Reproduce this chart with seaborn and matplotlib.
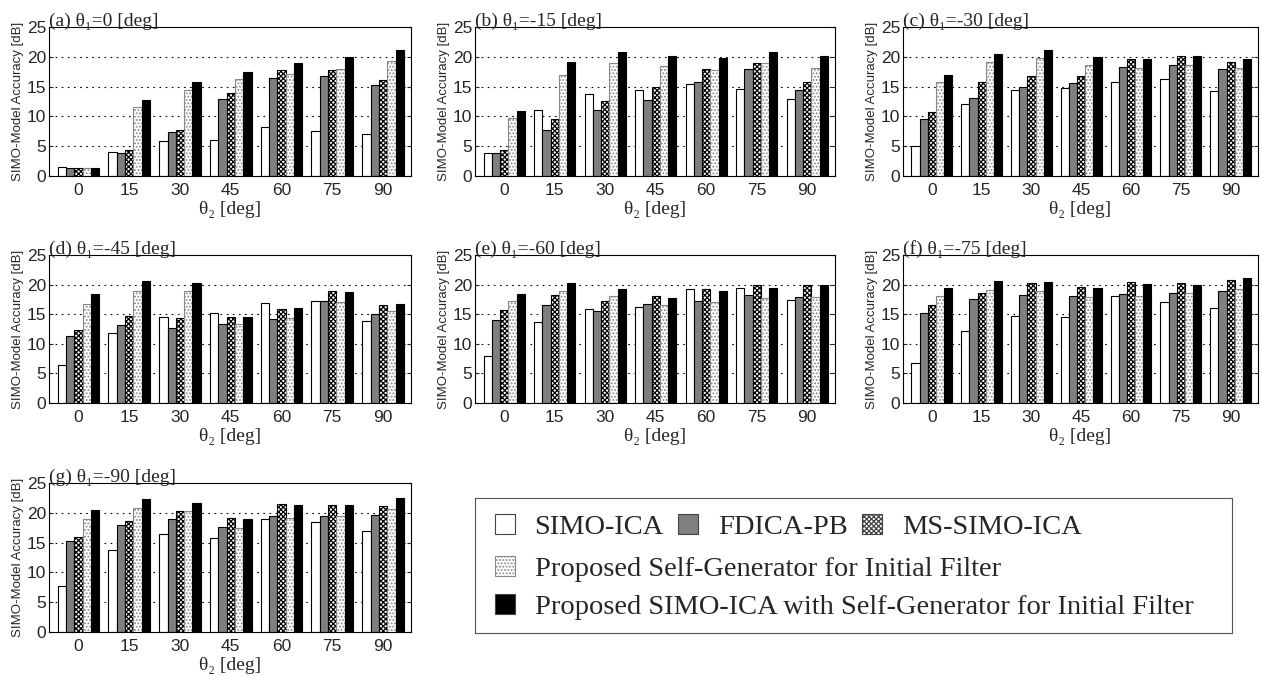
import numpy as np
import pandas as pd
import matplotlib
matplotlib.use('Agg')
import matplotlib.pyplot as plt
from matplotlib.patches import Patch
import seaborn as sns

# theta2 positions and methods
angles = ['0', '15', '30', '45', '60', '75', '90']
methods = ['SIMO-ICA', 'FDICA-PB', 'MS-SIMO-ICA',
           'Proposed Self-Generator for Initial Filter',
           'Proposed SIMO-ICA with Self-Generator for Initial Filter']

# rows: one per method (same order as methods), columns: theta2
panel_a = [[1.5, 4.0, 5.9, 6.1, 8.2, 7.6, 7.1],
           [1.4, 3.8, 7.4, 13.0, 16.5, 16.7, 15.3],
           [1.4, 4.3, 7.8, 13.9, 17.8, 17.8, 16.1],
           [1.4, 11.6, 14.5, 16.2, 17.1, 18.0, 19.3],
           [1.4, 12.8, 15.7, 17.4, 18.9, 20.0, 21.2]]
panel_b = [[3.8, 11.0, 13.7, 14.4, 15.5, 14.6, 13.0],
           [3.9, 7.8, 11.0, 12.8, 15.8, 17.9, 14.5],
           [4.4, 9.6, 12.6, 15.0, 17.9, 19.0, 15.7],
           [9.8, 16.9, 18.9, 18.5, 17.8, 18.9, 18.1],
           [10.9, 19.1, 20.8, 20.2, 19.8, 20.8, 20.1]]
panel_c = [[5.0, 12.1, 14.4, 14.7, 15.7, 16.3, 14.2],
           [9.5, 13.1, 15.0, 15.6, 18.3, 18.6, 18.0],
           [10.7, 15.7, 16.7, 16.7, 19.7, 20.2, 19.1],
           [15.7, 19.2, 19.8, 18.6, 18.1, 18.6, 18.1],
           [16.9, 20.5, 21.2, 20.0, 19.6, 20.2, 19.6]]
panel_d = [[6.5, 11.8, 14.5, 15.2, 16.9, 17.2, 13.8],
           [11.4, 13.1, 12.7, 13.4, 14.2, 17.2, 15.1],
           [12.3, 14.7, 14.4, 14.6, 15.8, 19.0, 16.6],
           [16.8, 19.0, 19.0, 13.4, 14.4, 17.0, 15.6],
           [18.4, 20.6, 20.3, 14.6, 16.1, 18.7, 16.8]]
panel_e = [[8.0, 13.7, 15.9, 16.3, 19.2, 19.4, 17.4],
           [14.1, 16.6, 15.6, 16.8, 17.2, 18.3, 17.9],
           [15.7, 18.3, 17.3, 18.1, 19.2, 19.9, 20.0],
           [17.3, 18.9, 18.1, 16.5, 17.0, 17.8, 17.9],
           [18.4, 20.3, 19.2, 17.7, 18.9, 19.4, 19.9]]
panel_f = [[6.7, 12.1, 14.7, 14.6, 18.0, 17.1, 16.1],
           [15.2, 17.5, 18.3, 18.0, 18.4, 18.5, 18.9],
           [16.5, 18.6, 20.2, 19.6, 20.5, 20.3, 20.7],
           [18.1, 19.1, 19.0, 17.9, 18.0, 18.5, 19.2],
           [19.4, 20.6, 20.5, 19.5, 20.1, 20.0, 21.1]]
panel_g = [[7.8, 13.8, 16.4, 15.8, 18.9, 18.4, 16.9],
           [15.3, 17.9, 18.9, 17.7, 19.4, 19.5, 19.7],
           [16.0, 18.6, 20.3, 19.1, 21.4, 21.3, 21.2],
           [18.9, 20.8, 20.3, 17.4, 19.1, 19.5, 20.6],
           [20.4, 22.3, 21.6, 19.0, 21.3, 21.3, 22.4]]

titles = ['(a) θ₁=0 [deg]', '(b) θ₁=-15 [deg]', '(c) θ₁=-30 [deg]',
          '(d) θ₁=-45 [deg]', '(e) θ₁=-60 [deg]', '(f) θ₁=-75 [deg]',
          '(g) θ₁=-90 [deg]']
panels = [panel_a, panel_b, panel_c, panel_d, panel_e, panel_f, panel_g]

# bar styles: facecolor, hatch, edgecolor
styles = [('white', '', 'black'),
          ('#7f7f7f', '', 'black'),
          ('white', 'xxxxxxx', 'black'),
          ('white', '.....', '#888888'),
          ('black', '', 'black')]

sns.set_style('white')
serif = ['Liberation Serif', 'DejaVu Serif']
sans = ['Liberation Sans', 'DejaVu Sans']
plt.rcParams['font.family'] = sans
plt.rcParams['hatch.linewidth'] = 0.9

W, H = 1262, 677
fig = plt.figure(figsize=(W / 100, H / 100), dpi=100)

cols = [(49, 411), (475, 835), (903, 1258)]
rows = [(27, 176), (255, 403), (483, 632)]


def style_bars(ax):
    for cont, (fc, hatch, ec) in zip(ax.containers, styles):
        for p in cont:
            p.set_facecolor(fc)
            p.set_hatch(hatch)
            p.set_edgecolor(ec)
            p.set_linewidth(0.8)


for i, (vals, title) in enumerate(zip(panels, titles)):
    r, c = divmod(i, 3)
    (l, rr), (t, b) = cols[c], rows[r]
    ax = fig.add_axes([l / W, 1 - b / H, (rr - l) / W, (b - t) / H])
    df = pd.DataFrame({
        'theta2': np.tile(angles, len(methods)),
        'value': np.concatenate(vals),
        'method': np.repeat(methods, len(angles)),
    })
    sns.barplot(data=df, x='theta2', y='value', hue='method', order=angles,
                hue_order=methods, width=0.82, ax=ax, legend=False,
                saturation=1, palette=['white'] * 5)
    style_bars(ax)
    ax.set_ylim(0, 25)
    ax.set_xlim(-0.58, 6.55)
    ax.set_yticks([0, 5, 10, 15, 20, 25])
    for yv in [5, 10, 15, 20]:
        ax.axhline(yv, color='black', lw=0.8, ls=(0, (1.5, 4)), zorder=0)
    ax.tick_params(axis='both', direction='in', labelsize=12.5, length=3,
                   right=True, left=True, bottom=True, top=False, pad=2)
    ax.tick_params(axis='x', length=0, pad=5)
    for s in ax.spines.values():
        s.set_visible(True)
        s.set_linewidth(0.8)
        s.set_color('black')
    ax.set_ylabel('SIMO-Model Accuracy [dB]', fontsize=9.5, labelpad=2)
    ax.set_xlabel('θ₂ [deg]', fontsize=14, family=serif, labelpad=2)
    ax.set_title(title, loc='left', fontsize=14, family=serif, pad=1, x=0)

# legend box
lax = fig.add_axes([475 / W, 1 - 633 / H, (1232 - 475) / W, (633 - 498) / H])
lax.set_xticks([])
lax.set_yticks([])
for s in lax.spines.values():
    s.set_visible(True)
    s.set_linewidth(0.8)
    s.set_color('#555555')

handles = [Patch(facecolor=fc, hatch=h, edgecolor=ec if ec != 'black' else '#444444',
                 linewidth=0.8) for fc, h, ec in styles]
lfont = {'family': serif, 'size': 20.5}
leg1 = lax.legend(handles[:3], methods[:3], ncol=3, loc='upper left',
                  bbox_to_anchor=(0.026, 0.88), frameon=False, prop=lfont,
                  handlelength=0.7, handleheight=0.7, handletextpad=0.7,
                  columnspacing=0.5, borderaxespad=0, borderpad=0)
lax.add_artist(leg1)
lax.legend(handles[3:], methods[3:], ncol=1, loc='upper left',
           bbox_to_anchor=(0.026, 0.57), frameon=False, prop=lfont,
           handlelength=0.7, handleheight=0.7, handletextpad=0.7,
           labelspacing=0.42, borderaxespad=0, borderpad=0)

fig.savefig('out.png', dpi=100)
